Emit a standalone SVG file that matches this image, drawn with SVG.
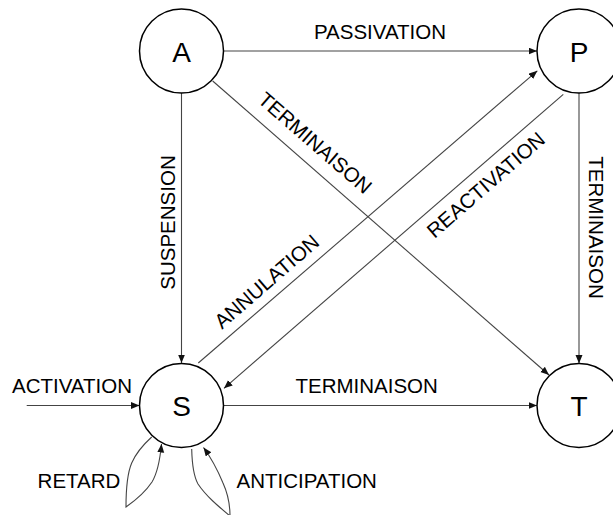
<svg xmlns="http://www.w3.org/2000/svg" width="613" height="515" viewBox="0 0 613 515">
<style>
.node circle{fill:#fff;stroke:#000;stroke-width:1.5}
.node text{font-family:"Liberation Sans",Arial,sans-serif;font-size:28px;fill:#000;text-anchor:middle}
.lbl{font-family:"Liberation Sans",Arial,sans-serif;font-size:20.5px;fill:#000;text-anchor:middle}
.edge{fill:none;stroke:#444;stroke-width:1.1;marker-end:url(#arr)}
</style>
<defs>
<marker id="arr" markerWidth="9" markerHeight="8" refX="8.5" refY="3.5" orient="auto" markerUnits="userSpaceOnUse">
<path d="M0,0 L8.5,3.5 L0,7 Z" fill="#111"/>
</marker>
</defs>
<rect width="613" height="515" fill="#fff"/>
<g id="connectors">
<path class="edge" d="M223.5,51 L537,51"/>
<path class="edge" d="M181.5,93 L181.5,363"/>
<path class="edge" d="M212.7,81 L549,375"/>
<path class="edge" d="M579,93 L579,363.5"/>
<path class="edge" d="M198.3,363 L537.3,70.8"/>
<path class="edge" d="M563.3,94.3 L224,388.3"/>
<path class="edge" d="M26.7,405.5 L139.5,405.5"/>
<path class="edge" d="M223.5,405.5 L537,405.5"/>
<path class="edge" d="M151.7,437 C144,444 136,453 131.7,463 C127,474 126,490 126,507 C136,500 146,491 152,482 C158,472 160,460 161.5,444"/>
<path class="edge" d="M191.7,449 C192,462 193,475 198,484 C206,496 218,506 230,516 C230,505 228,494 223,483 C218,471 212,459 203.5,447.5"/>
</g>
<g id="labels">
<text class="lbl" x="380" y="38.5">PASSIVATION</text>
<text class="lbl" transform="translate(175,222.5) rotate(-90)">SUSPENSION</text>
<text class="lbl" transform="translate(310.4,148.3) rotate(41)">TERMINAISON</text>
<text class="lbl" transform="translate(271.3,287) rotate(-41)">ANNULATION</text>
<text class="lbl" transform="translate(490.4,190.3) rotate(-41)">REACTIVATION</text>
<text class="lbl" transform="translate(588.5,227.5) rotate(90)">TERMINAISON</text>
<text class="lbl" x="72" y="392.7">ACTIVATION</text>
<text class="lbl" x="366.7" y="393.3">TERMINAISON</text>
<text class="lbl" x="79" y="488.3">RETARD</text>
<text class="lbl" x="306.7" y="487.7">ANTICIPATION</text>
</g>
<g id="node-A" class="node"><circle cx="181.5" cy="51" r="42"/><text x="181.5" y="61.5">A</text></g>
<g id="node-P" class="node"><circle cx="579" cy="51" r="42"/><text x="579" y="61.5">P</text></g>
<g id="node-S" class="node"><circle cx="181.5" cy="405.5" r="42"/><text x="181.5" y="415.5">S</text></g>
<g id="node-T" class="node"><circle cx="579" cy="405.5" r="42"/><text x="579" y="415.5">T</text></g>
</svg>
